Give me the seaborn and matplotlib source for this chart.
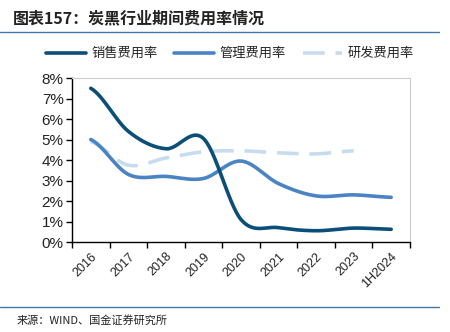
import numpy as np
import pandas as pd
import matplotlib
matplotlib.use("Agg")
import matplotlib.pyplot as plt
import seaborn as sns
from matplotlib.lines import Line2D

sns.set_theme(style="white")
plt.rcParams['font.family'] = ['Noto Sans CJK SC', 'DejaVu Sans']

categories = ["2016", "2017", "2018", "2019", "2020", "2021", "2022", "2023", "1H2024"]
sales_rate = [7.5, 5.4, 4.55, 5.05, 1.1, 0.7, 0.55, 0.68, 0.62]
admin_rate = [5.0, 3.3, 3.2, 3.1, 3.95, 2.85, 2.25, 2.3, 2.18]
rd_rate = [4.9, 3.75, 4.1, 4.4, 4.45, 4.35, 4.3, 4.45]
yticks = [0, 1, 2, 3, 4, 5, 6, 7, 8]

c_sales = "#0b4f78"
c_admin = "#4a84c4"
c_rd = "#c8dcf0"


def smooth(vals, n=30):
    # Catmull-Rom rendering of the data points (Excel-style smoothed line)
    p = np.asarray(vals, dtype=float)
    x = np.arange(len(p), dtype=float)
    xs, ys = [], []
    for i in range(len(p) - 1):
        p0 = p[i - 1] if i > 0 else p[i]
        p1, p2 = p[i], p[i + 1]
        p3 = p[i + 2] if i + 2 < len(p) else p[i + 1]
        t = np.linspace(0, 1, n, endpoint=False)
        y = 0.5 * ((2 * p1) + (-p0 + p2) * t + (2 * p0 - 5 * p1 + 4 * p2 - p3) * t ** 2
                   + (-p0 + 3 * p1 - 3 * p2 + p3) * t ** 3)
        xs.append(x[i] + t)
        ys.append(y)
    xs.append([x[-1]])
    ys.append([p[-1]])
    return np.concatenate(xs), np.concatenate(ys)


fig = plt.figure(figsize=(4.5, 3.32), dpi=100)
ax = fig.add_axes([0.16, 0.271, 0.751, 0.494])

for vals, col, name in [(rd_rate, c_rd, "rd"), (admin_rate, c_admin, "admin"), (sales_rate, c_sales, "sales")]:
    sx, sy = smooth(vals)
    df = pd.DataFrame({"x": sx, "y": sy})
    if name == "rd":
        sns.lineplot(data=df, x="x", y="y", ax=ax, color=col, lw=2.6, sort=False,
                     dashes=False, linestyle=(0, (6, 3)))
    else:
        sns.lineplot(data=df, x="x", y="y", ax=ax, color=col, lw=2.6, sort=False)

ax.set_xlim(-0.5, len(categories) - 0.5)
ax.set_ylim(0, 8)
ax.set_yticks(yticks)
ax.set_yticklabels([f"{v}%" for v in yticks], fontsize=11, family=['Liberation Sans'], color="#222222")
ax.set_xticks(range(len(categories)))
ax.set_xticklabels(categories, rotation=45, ha="right", rotation_mode="anchor",
                   fontsize=9, family=['Liberation Sans'], color="#222222")
ax.tick_params(axis="x", length=0, pad=6)
ax.set_xticks(np.arange(-0.5, len(categories), 1), minor=True)
ax.tick_params(axis="x", which="minor", length=4, width=1, color="black", direction="out", bottom=True)
ax.tick_params(axis="y", length=4, width=1, color="black", direction="out", left=True, pad=2)
ax.set_xlabel("")
ax.set_ylabel("")
for s in ["left", "bottom"]:
    ax.spines[s].set_color("black")
    ax.spines[s].set_linewidth(1.0)
for s in ["top", "right"]:
    ax.spines[s].set_color("#cccccc")
    ax.spines[s].set_linewidth(0.8)

# Legend
handles = [Line2D([], [], color=c_sales, lw=2.6),
           Line2D([], [], color=c_admin, lw=2.6),
           Line2D([], [], color=c_rd, lw=2.6, linestyle=(0, (6, 3)))]
fig.legend(handles, ["销售费用率", "管理费用率", "研发费用率"], loc="center",
           bbox_to_anchor=(0.511, 0.838), ncol=3, frameon=False,
           handlelength=3.0, handletextpad=0.4, columnspacing=1.3,
           prop={'family': ['Noto Sans CJK SC'], 'size': 9.5})

# Title and rules
fig.text(0.028, 0.945, "图表157：炭黑行业期间费用率情况", fontsize=11.5, fontweight="bold",
         color="#222222", va="center", ha="left")
fig.add_artist(Line2D([0.0, 0.975], [0.905, 0.905], color="#3f78a6", lw=1.0, transform=fig.transFigure))
fig.add_artist(Line2D([0.0, 0.975], [0.075, 0.075], color="#3f78a6", lw=1.0, transform=fig.transFigure))
fig.text(0.038, 0.035, "来源：WIND、国金证券研究所", fontsize=8, color="#222222", va="center", ha="left")

fig.savefig("out.png", dpi=100)
